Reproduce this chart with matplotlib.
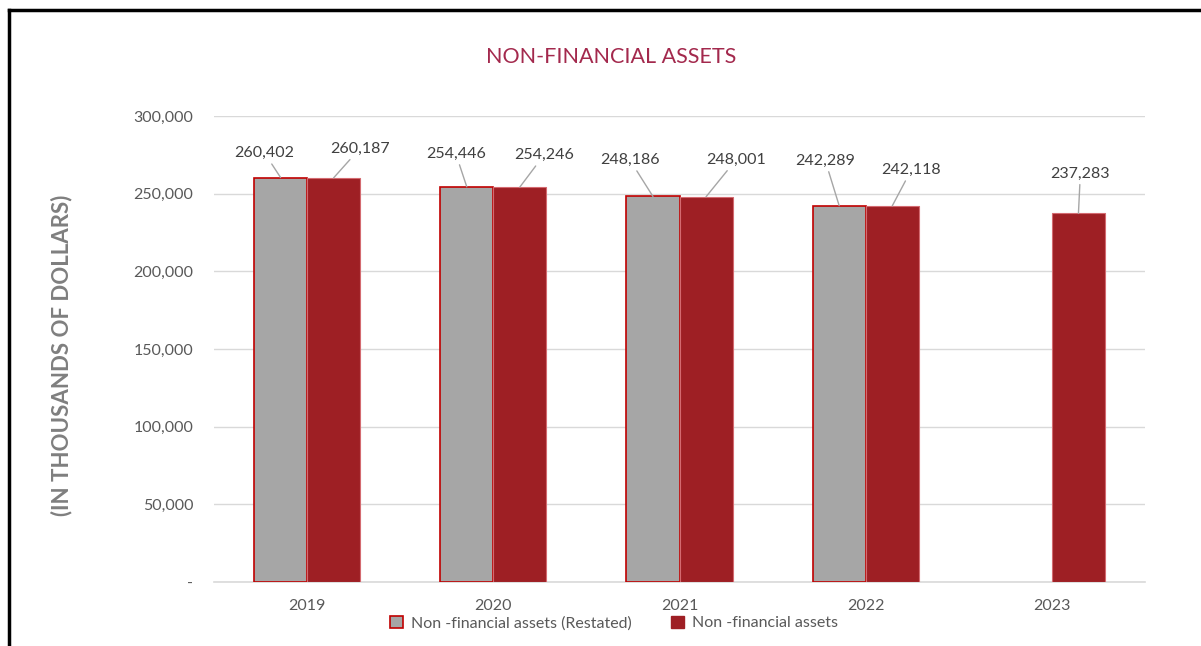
import matplotlib
matplotlib.use('agg')
import matplotlib.pyplot as plt
from matplotlib.lines import Line2D
from matplotlib.patches import Patch
import numpy as np

plt.rcParams['font.family'] = ['Lato', 'DejaVu Sans']

years = ['2019', '2020', '2021', '2022', '2023']
restated = [260402, 254446, 248186, 242289, None]
reported = [260187, 254246, 248001, 242118, 237283]
y_ticks = [0, 50000, 100000, 150000, 200000, 250000, 300000]
y_tick_labels = ['-', '50,000', '100,000', '150,000', '200,000', '250,000', '300,000']

# label centre offsets (points) from the top of each bar
restated_offsets = [(-11.5, 17.6), (-7.9, 23.8), (-16.6, 26.3), (-10, 32.4), None]
reported_offsets = [(18.7, 20.9), (17.3, 23), (21.6, 26.6), (13.7, 25.9), (1.4, 28.8)]

red = '#9E1F24'
gray = '#A6A6A6'
text_col = '#404040'

fig = plt.figure(figsize=(12.01, 6.46), dpi=100)
ax = fig.add_axes([214 / 1201, 1 - 582 / 646, 931 / 1201, 466 / 646])

x = np.arange(len(years))
w = 0.285
off = 0.1425

for i, v in enumerate(restated):
    if v is None:
        continue
    ax.bar(x[i] - off, v, w, color=gray, edgecolor='#C00000', linewidth=1.2, zorder=3)
    dx, dy = restated_offsets[i]
    ax.annotate(f'{v:,}', (x[i] - off, v), xytext=(dx, dy), textcoords='offset points',
                ha='center', va='center', fontsize=11.5, color=text_col,
                arrowprops=dict(arrowstyle='-', color='#A6A6A6', lw=1, shrinkA=1, shrinkB=0))

for i, v in enumerate(reported):
    ax.bar(x[i] + off, v, w, color=red, edgecolor='#D46A70', linewidth=0.8, zorder=3)
    dx, dy = reported_offsets[i]
    ax.annotate(f'{v:,}', (x[i] + off, v), xytext=(dx, dy), textcoords='offset points',
                ha='center', va='center', fontsize=11.5, color=text_col,
                arrowprops=dict(arrowstyle='-', color='#A6A6A6', lw=1, shrinkA=1, shrinkB=0))

ax.set_xlim(-0.5, 4.5)
ax.set_ylim(0, 300000)
ax.set_xticks(x)
ax.set_xticklabels(years)
ax.set_yticks(y_ticks)
ax.set_yticklabels(y_tick_labels)
ax.tick_params(axis='both', length=0, labelsize=11.5, labelcolor='#595959')
ax.tick_params(axis='x', pad=12)
ax.tick_params(axis='y', pad=15)
ax.grid(axis='y', color='#D9D9D9', linewidth=1, zorder=0)
for s in ['top', 'right', 'left']:
    ax.spines[s].set_visible(False)
ax.spines['bottom'].set_color('#D9D9D9')
ax.spines['bottom'].set_linewidth(1.2)

fig.text(611 / 1201, 1 - 57 / 646, 'NON-FINANCIAL ASSETS', ha='center', va='center',
         fontsize=15.5, color='#A3294D')
fig.text(62 / 1201, 1 - 355 / 646, '(IN THOUSANDS OF DOLLARS)', ha='center', va='center',
         rotation=90, fontsize=16, fontweight='bold', color='#7F7F7F')

handles = [Patch(facecolor=gray, edgecolor='#C00000', linewidth=1.2),
           Patch(facecolor=red, edgecolor=red)]
fig.legend(handles, ['Non -financial assets (Restated)', 'Non -financial assets'],
           loc='center', bbox_to_anchor=(614 / 1201, 1 - 623 / 646), ncol=2, frameon=False,
           fontsize=11.5, labelcolor='#595959', handlelength=0.8, handleheight=0.8,
           handletextpad=0.5, columnspacing=2.5)

# black frame on the left and top
bx = 9 / 1201
by = 1 - 10 / 646
fig.add_artist(Line2D([bx, bx], [0, by], color='black', lw=2.5, transform=fig.transFigure))
fig.add_artist(Line2D([bx, 1], [by, by], color='black', lw=2.5, transform=fig.transFigure))

fig.savefig('out.png', dpi=100)
